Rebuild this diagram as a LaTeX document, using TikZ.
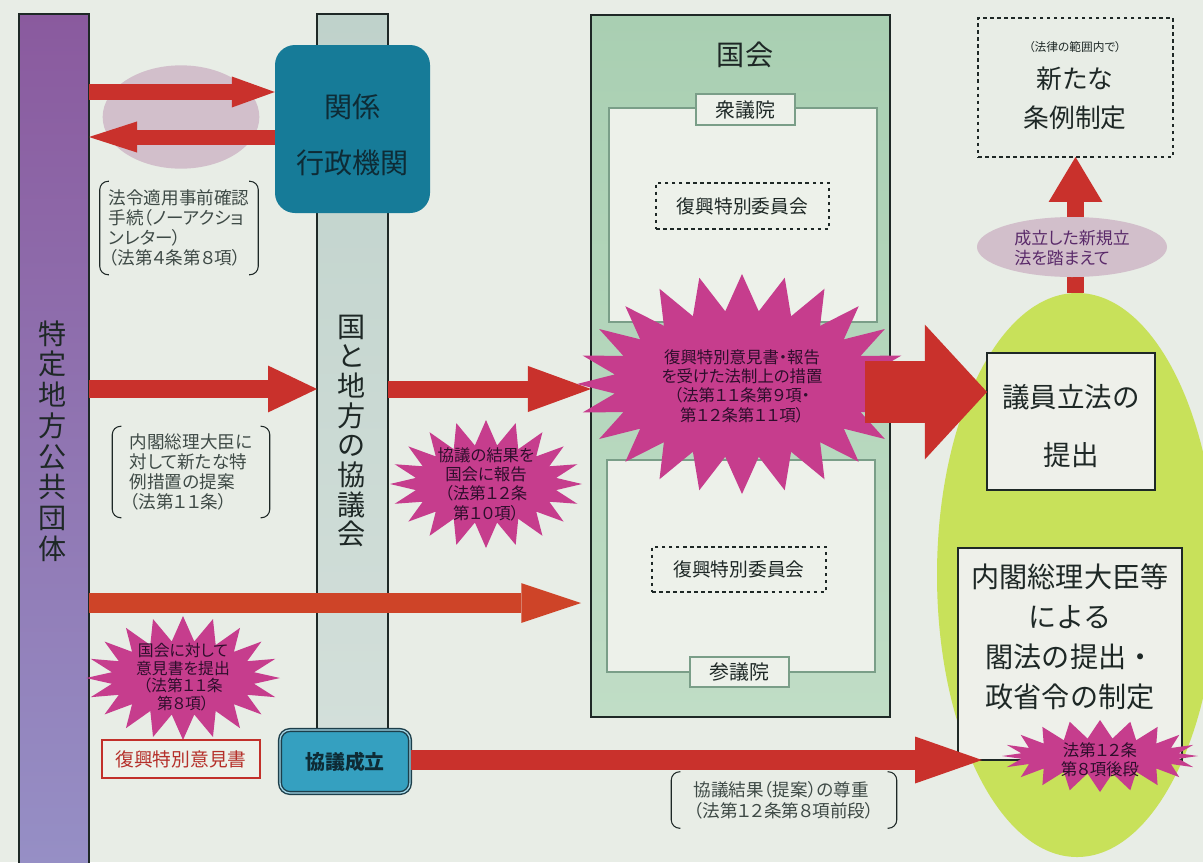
\documentclass[tikz,border=0pt]{standalone}
\usepackage{fontspec}
\setmainfont{Noto Sans CJK JP}
\newfontfamily\cjkp[RawFeature=+palt]{Noto Sans CJK JP}
\usetikzlibrary{shapes.symbols,shapes.geometric,arrows.meta,fit}
\definecolor{bgc}{HTML}{E8EDE6}
\definecolor{purtop}{HTML}{8A5A9E}
\definecolor{purbot}{HTML}{9690C6}
\definecolor{gbtop}{HTML}{BFD2CB}
\definecolor{gbbot}{HTML}{D3DFDA}
\definecolor{tealc}{HTML}{167B98}
\definecolor{tealtxt}{HTML}{0E2B35}
\definecolor{kyogic}{HTML}{35A0C0}
\definecolor{kyogid}{HTML}{1C3E4A}
\definecolor{kyogil}{HTML}{A3D6E6}
\definecolor{arrred}{HTML}{C9312C}
\definecolor{arrorg}{HTML}{CE4428}
\definecolor{starpk}{HTML}{C63D8D}
\definecolor{startxt}{HTML}{2E0E2C}
\definecolor{kokkaitop}{HTML}{A9CFB2}
\definecolor{kokkaibot}{HTML}{C0DDC6}
\definecolor{innerf}{HTML}{EDF1EA}
\definecolor{innerd}{HTML}{7A9E88}
\definecolor{limec}{HTML}{C8E15A}
\definecolor{mauve}{HTML}{D2BFCB}
\definecolor{mauvetxt}{HTML}{5A2A6A}
\definecolor{boxf}{HTML}{EEF0EA}
\definecolor{inkc}{HTML}{1E2826}
\definecolor{graytxt}{HTML}{3E4A46}
\definecolor{redtxt}{HTML}{B5302A}
\definecolor{redbd}{HTML}{C2302A}
\tikzset{
  rect/.style={draw=inkc, line width=1pt, inner sep=0pt, outer sep=0pt},
  vtext/.style={align=center, text=inkc, inner sep=0pt},
  lbl/.style={align=center, text=inkc, inner sep=0pt},
  burst/.style={starburst, fill=starpk, draw=none, inner sep=0pt, outer sep=0pt, starburst points=22, random starburst=7},
  bursttxt/.style={align=center, text=startxt, inner sep=0pt, font=\cjkp\fontsize{14}{16.5}\selectfont},
  brtxt/.style={align=left, text=graytxt, inner sep=0pt, font=\cjkp\fontsize{15}{17}\selectfont},
  brk/.style={draw=inkc, line width=0.9pt, rounded corners=0.25cm},
  barrow/.style args={#1/#2/#3/#4}{draw=#4, line width=#1, -{Triangle[length=#2, width=#3, line width=0pt]}},
  dbox/.style={draw=inkc, line width=1pt, dashed, inner sep=0pt, outer sep=0pt},
  inbox/.style={draw=innerd, line width=1pt, fill=innerf, inner sep=0pt, outer sep=0pt},
}
\begin{document}
\begin{tikzpicture}[x=0.03cm,y=-0.03cm]
\useasboundingbox (0,0) rectangle (1203,862);
\clip (0,0) rectangle (1203,862);
\fill[bgc] (0,0) rectangle (1203,862);

% coordinates for arrow levels
\coordinate (y92) at (0,92);
\coordinate (y137) at (0,137);
\coordinate (y389) at (0,389);
\coordinate (y603) at (0,603);
\coordinate (a7s) at (865,392);

% left bars
\node[rect, top color=purtop, bottom color=purbot, fit={(19,14) (89,880)}] (ptai) {};
\node[vtext, font=\fontsize{24}{26.2}\selectfont, text=inkc] (ptaitxt) at (53,441) {特\\定\\地\\方\\公\\共\\団\\体};
\node[rect, top color=gbtop, bottom color=gbbot, fit={(317,14) (388,733)}] (gbar) {};
\node[vtext, font=\fontsize{24}{25.3}\selectfont] (gbartxt) at (352,431) {国\\と\\地\\方\\の\\協\\議\\会};

% consultation with agencies
\node[ellipse, fill=mauve, minimum width=4.7cm, minimum height=3.1cm, inner sep=0pt] (mauve1) at (181,117) {};
\node[fit={(275,45) (430,213)}, fill=tealc, rounded corners=0.6cm, inner sep=0pt,
  label={[lbl, text=tealtxt, font=\fontsize{24}{48}\selectfont, yshift=-5pt]center:関係\\行政機関}] (kankei) {};
\draw[barrow=14.5pt/36.7pt/26.5pt/arrred] (ptai.east |- y92) -- (kankei.west |- y92);
\draw[barrow=12.8pt/41pt/26.5pt/arrred] (kankei.west |- y137) -- (ptai.east |- y137);
\node[brtxt, minimum width=4.74cm, minimum height=2.79cm] (br1) at (179,228) {法令適用事前確認\\手続（ノーアクショ\\ンレター）\\（法第４条第８項）};
\draw[brk] ([xshift=0.27cm]br1.north west) -- (br1.north west) -- (br1.south west) -- ([xshift=0.27cm]br1.south west);
\draw[brk] ([xshift=-0.27cm]br1.north east) -- (br1.north east) -- (br1.south east) -- ([xshift=-0.27cm]br1.south east);

% Diet
\node[rect, top color=kokkaitop, bottom color=kokkaibot, fit={(591,15) (890,717)}] (kokkai) {};
\node[font=\fontsize{24}{28}\selectfont, text=inkc, inner sep=0pt] (kokkaitxt) at (745,55) {国会};
\node[inbox, fit={(609,108) (877,322)}] (shu) {};
\node[inbox, fit={(696,94) (795,125)}, label={[lbl, font=\fontsize{17}{20}\selectfont]center:衆議院}] (shutab) {};
\node[dbox, fit={(656,183) (829,229)}, label={[lbl, font=\fontsize{16}{19}\selectfont]center:復興特別委員会}] (iin1) {};
\node[inbox, fit={(607,460) (875,672)}] (san) {};
\node[inbox, fit={(690,657) (789,687)}, label={[lbl, font=\fontsize{17}{20}\selectfont]center:参議院}] (santab) {};
\node[dbox, fit={(652,547) (826,592)}, label={[lbl, font=\fontsize{16}{19}\selectfont]center:復興特別委員会}] (iin2) {};

% main arrows
\draw[barrow=15.4pt/41.8pt/40pt/arrred] (ptai.east |- y389) -- (gbar.west |- y389);
\draw[barrow=14.5pt/53.8pt/39.3pt/arrred] (gbar.east |- y389) -- (kokkai.west |- y389);
\draw[barrow=17pt/51pt/34pt/arrorg, shorten >=0.3cm] (ptai.east |- y603) -- (kokkai.west |- y603);

\node[brtxt, minimum width=4.71cm, minimum height=2.73cm] (br2) at (191,472) {内閣総理大臣に\\対して新たな特\\例措置の提案\\（法第１１条）};
\draw[brk] ([xshift=0.27cm]br2.north west) -- (br2.north west) -- (br2.south west) -- ([xshift=0.27cm]br2.south west);
\draw[brk] ([xshift=-0.27cm]br2.north east) -- (br2.north east) -- (br2.south east) -- ([xshift=-0.27cm]br2.south east);

% star bursts
\node[burst, minimum width=5.76cm, minimum height=3.84cm, starburst point height=0.75cm, random starburst=0, starburst points=20] (s1) at (486,484) {};
\node[bursttxt] (s1t) at (486,484) {協議の結果を\\国会に報告\\（法第１２条\\第１０項）};
\node[burst, minimum width=9.9cm, minimum height=6.6cm, starburst point height=1.1cm, starburst points=24, random starburst=0] (s3) at (742,384) {};
\node[bursttxt] (s3t) at (742,386) {復興特別意見書・報告\\を受けた法制上の措置\\（法第１１条第９項・\\第１２条第１１項）};

% right side
\node[ellipse, fill=limec, minimum width=8.4cm, minimum height=16.92cm, inner sep=0pt] (geel) at (1077,575) {};
\node[rect, line width=1.4pt, fill=boxf, fit={(987,353) (1155,490)},
  label={[lbl, font=\fontsize{23.5}{49.5}\selectfont, yshift=-4pt]center:議員立法の\\提出}] (giin) {};
\node[rect, line width=1.4pt, fill=boxf, fit={(958,548) (1182,760)}] (naikaku) {};
\node[align=center, font=\fontsize{24}{34}\selectfont, text=inkc, inner sep=0pt] (naikakutxt) at (1070,637) {内閣総理大臣等\\による\\閣法の提出・\\政省令の制定};
\draw[barrow=53pt/53pt/115pt/arrred] (a7s) -- (giin.west |- a7s);

% bottom-left
\node[burst, minimum width=5.82cm, minimum height=3.72cm, starburst point height=0.75cm, random starburst=0, starburst points=20] (s2) at (183,678) {};
\node[bursttxt, font=\cjkp\fontsize{13.5}{15}\selectfont] (s2t) at (183,677) {国会に対して\\意見書を提出\\（法第１１条\\第８項）};
\node[draw=redbd, line width=2.2pt, fill=innerf, fit={(102,740) (260,778)}, inner sep=0pt,
  label={[lbl, text=redtxt, font=\fontsize{16}{19}\selectfont]center:復興特別意見書}] (iken) {};
\node[fit={(280,730) (410,793)}, fill=kyogic, draw=kyogid, line width=1.2pt, double=kyogil, double distance=1.1pt, rounded corners=0.3cm, inner sep=0pt,
  label={[lbl, text=tealtxt, font=\bfseries\fontsize{17}{20}\selectfont]center:協議成立}] (kyogi) {};
\draw[barrow=17pt/57pt/40pt/arrred] (kyogi.east |- naikaku.south) -- ([xshift=0.72cm]naikaku.south west);
\node[burst, minimum width=5.88cm, minimum height=2.16cm, starburst point height=0.55cm, random starburst=0, starburst points=20] (s4) at (1100,756) {};
\node[bursttxt] (s4t) at (1100,760) {法第１２条\\第８項後段};
\node[brtxt, minimum width=6.75cm, minimum height=1.68cm, font=\cjkp\fontsize{15}{18}\selectfont] (br3) at (784,800) {協議結果（提案）の尊重\\（法第１２条第８項前段）};
\draw[brk] ([xshift=0.27cm]br3.north west) -- (br3.north west) -- (br3.south west) -- ([xshift=0.27cm]br3.south west);
\draw[brk] ([xshift=-0.27cm]br3.north east) -- (br3.north east) -- (br3.south east) -- ([xshift=-0.27cm]br3.south east);

% top right
\node[dbox, fit={(978,18) (1173,157)}] (newbox) {};
\node[font=\cjkp\fontsize{10}{12}\selectfont, text=inkc, inner sep=0pt] (newsmall) at (1075,47) {（法律の範囲内で）};
\node[align=center, font=\fontsize{22}{33}\selectfont, text=inkc, inner sep=0pt] (newtxt) at (1075,98) {新たな\\条例制定};
\draw[barrow=14.5pt/38.4pt/46pt/arrred] (newbox.south |- geel.north) -- (newbox.south);
\node[ellipse, fill=mauve, minimum width=5.7cm, minimum height=1.8cm, inner sep=0pt] (seiritsu) at (1072,247) {};
\node[align=left, font=\cjkp\fontsize{14.5}{17}\selectfont, text=mauvetxt, inner sep=0pt] (seiritsutxt) at (1072,248) {成立した新規立\\法を踏まえて};
\end{tikzpicture}
\end{document}
